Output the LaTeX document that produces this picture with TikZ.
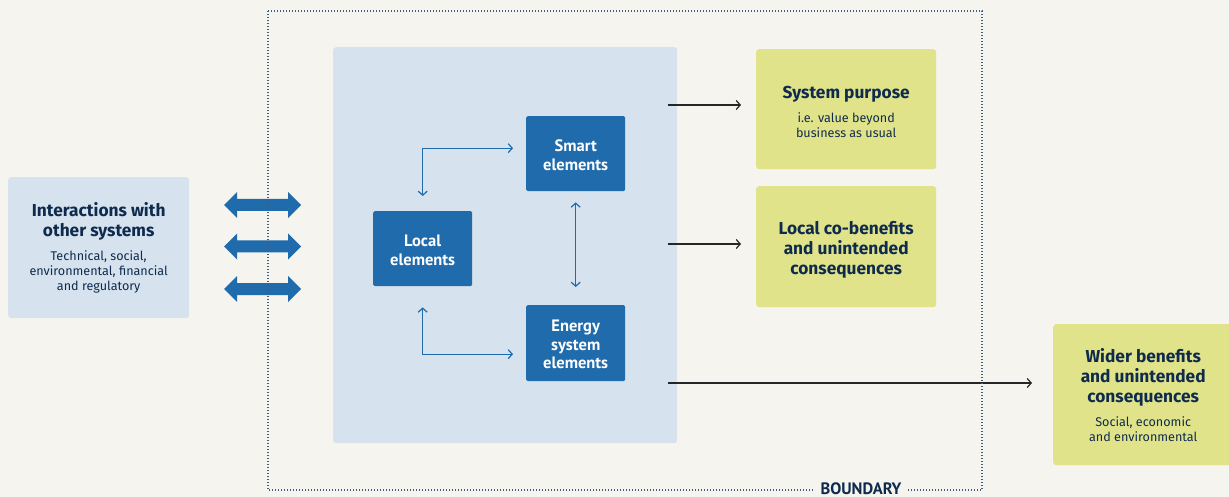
\documentclass[tikz,border=0pt]{standalone}
\usepackage{fontspec}
\setmainfont{Fira Sans}
\newfontfamily\condf{PT Sans}
\usetikzlibrary{arrows.meta}
\definecolor{bg}{HTML}{F5F4EE}
\definecolor{lblue}{HTML}{D6E2EE}
\definecolor{dblue}{HTML}{1F6BAC}
\definecolor{yel}{HTML}{E1E38A}
\definecolor{navy}{HTML}{0E2B4D}
\definecolor{bnd}{HTML}{3F5F80}
\tikzset{
  lightbox/.style={fill=lblue, rounded corners=3pt, draw=none, anchor=north west, inner sep=0pt},
  darkbox/.style={fill=dblue, rounded corners=1.5pt, draw=none, anchor=north west, inner sep=0pt,
    text=white, align=center, font=\condf\bfseries\fontsize{16.5}{18.5}\selectfont},
  yelbox/.style={fill=yel, rounded corners=3pt, draw=none, anchor=north west, inner sep=0pt,
    text=navy, align=center, font=\fontsize{12.5}{15}\selectfont},
  conn/.style={draw=dblue, line width=1.2pt, {Straight Barb[length=4pt,width=9pt]}-{Straight Barb[length=4pt,width=9pt]}},
  blk/.style={draw=black!85, line width=1.2pt, -{Straight Barb[length=4pt,width=9pt]}},
}
\newcommand{\hdl}[1]{\bfseries\fontsize{17.3}{20}\selectfont #1}
\newcommand{\sbl}[1]{\fontsize{12.6}{15}\selectfont #1}
\begin{document}
\begin{tikzpicture}[x=1pt,y=-1pt]
\useasboundingbox (0,0) rectangle (1229,497);
\fill[bg] (0,0) rectangle (1229,497);

% left box
\node[lightbox, minimum width=181pt, minimum height=141pt, text=navy, align=center, font=\fontsize{12.5}{15}\selectfont] (inter) at (8,177)
  {\hdl{Interactions with}\\[5pt]\hdl{other systems}\\[9pt]\sbl{Technical, social,}\\\sbl{environmental, financial}\\\sbl{and regulatory}};

% thick double arrows
\foreach \yy/\nm in {205/a1,246.5/a2,289/a3}{
  \coordinate (\nm) at (224,\yy);
  \fill[dblue] (\nm) -- ++(13,-13) -- ++(0,7) -- ++(51,0) -- ++(0,-7) -- ++(13,13)
     -- ++(-13,13) -- ++(0,-7) -- ++(-51,0) -- ++(0,7) -- cycle;
}

% panel
\node[lightbox, minimum width=344pt, minimum height=396pt] (panel) at (333,47) {};

% inner boxes
\node[darkbox, minimum width=99pt, minimum height=75pt] (local) at (373,211) {\rule{0pt}{14.5pt}Local\\elements};
\node[darkbox, minimum width=99pt, minimum height=75pt] (smart) at (526,116) {\rule{0pt}{14.5pt}Smart\\elements};
\node[darkbox, minimum width=99pt, minimum height=76pt] (energy) at (526,305) {\rule{0pt}{14.5pt}Energy\\system\\elements};

\draw[conn] ([yshift=15pt]local.north) |- ([xshift=-13pt,yshift=5.5pt]smart.west);
\draw[conn] ([yshift=-21pt]local.south) |- ([xshift=-13pt,yshift=-11pt]energy.west);
\draw[conn] ([yshift=-11pt]smart.south) -- ([yshift=18pt]energy.north);

% right boxes
\node[yelbox, minimum width=180pt, minimum height=120pt] (purpose) at (756,49)
  {\hdl{\rule{0pt}{18.5pt}System purpose}\\[9pt]\sbl{i.e. value beyond}\\\sbl{business as usual}};
\node[yelbox, minimum width=180pt, minimum height=121pt] (cob) at (756,186)
  {\hdl{\rule{0pt}{20pt}Local co-benefits}\\[5pt]\hdl{and unintended}\\[5pt]\hdl{consequences}};
\node[yelbox, minimum width=180pt, minimum height=141pt] (wider) at (1053,324)
  {\hdl{Wider benefits}\\[5pt]\hdl{and unintended}\\[5pt]\hdl{consequences}\\[9pt]\sbl{Social, economic}\\\sbl{and environmental}};

\coordinate (s1) at (668,105);
\coordinate (s2) at (668,244);
\coordinate (s3) at (668,383);
\draw[blk, shorten >=15pt] (s1) -- (s1 -| purpose.west);
\draw[blk, shorten >=15pt] (s2) -- (s2 -| cob.west);
\draw[blk, shorten >=21pt] (s3) -- (s3 -| wider.west);

% boundary
\draw[bnd, line width=1.2pt, dash pattern=on 1.2pt off 1.8pt] (268,11) rectangle (982,490);
\node[fill=bg, inner xsep=7pt, inner ysep=3pt, text=navy, font=\condf\bfseries\fontsize{16.5}{18}\selectfont] (bndl) at (861,489) {BOUNDARY};
\end{tikzpicture}
\end{document}
